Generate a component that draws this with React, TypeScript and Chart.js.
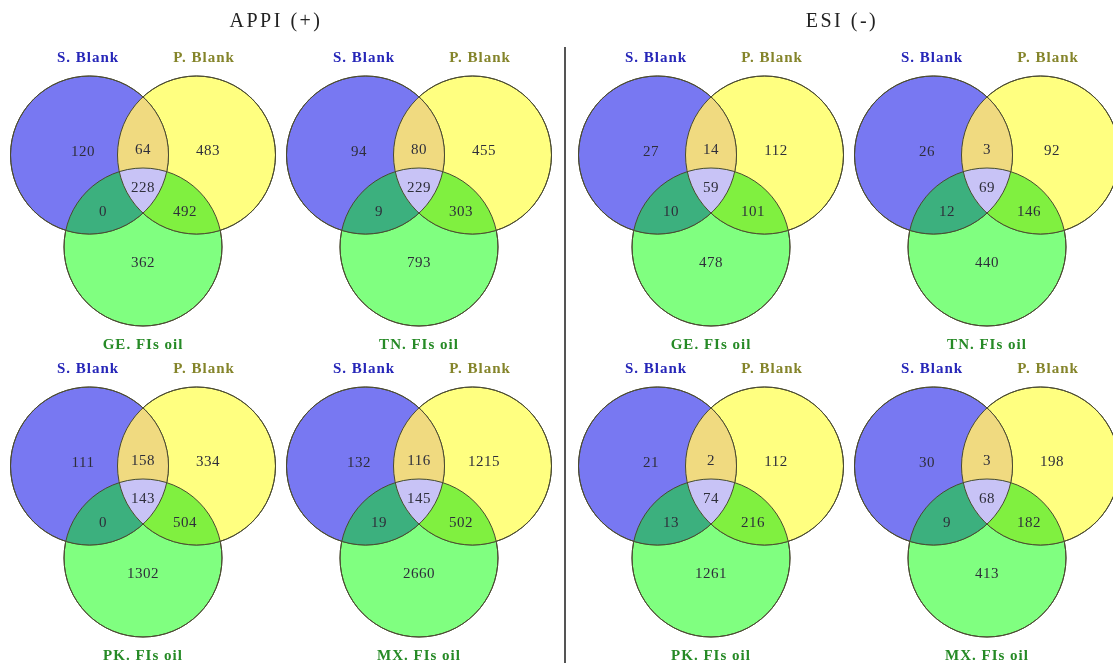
import React, { useEffect, useRef } from "react";
import { Chart, registerables } from "chart.js";

Chart.register(...registerables);

// ---- Data ----
const modeTitles = ["APPI (+)", "ESI (-)"];
const setLabels = ["S. Blank", "P. Blank"];
const sampleLabels = [
  "GE. FIs oil", "TN. FIs oil", "PK. FIs oil", "MX. FIs oil",
  "GE. FIs oil", "TN. FIs oil", "PK. FIs oil", "MX. FIs oil",
];
const onlyS = [120, 94, 111, 132, 27, 26, 21, 30];
const sAndP = [64, 80, 158, 116, 14, 3, 2, 3];
const onlyP = [483, 455, 334, 1215, 112, 92, 112, 198];
const allThree = [228, 229, 143, 145, 59, 69, 74, 68];
const sAndG = [0, 9, 0, 19, 10, 12, 13, 9];
const pAndG = [492, 303, 504, 502, 101, 146, 216, 182];
const onlyG = [362, 793, 1302, 2660, 478, 440, 1261, 413];

// ---- Layout (canvas units) ----
const W = 1113;
const H = 663;
const colX = [143, 419, 711, 987];
const rowY = [155, 466];
const HALF_D = 53.5;
const G_DY = 92;
const RADIUS = 79;
const titleX = [276, 842];
const titleY = 22;
const dividerX = 565;
const dividerTop = 47;

const panelCenter = (i: number) => {
  const mode = i < 4 ? 0 : 1;
  const j = i % 4;
  return { x: colX[mode * 2 + (j % 2)], y: rowY[j >= 2 ? 1 : 0] };
};

const COLORS = {
  S: "#7878F2",
  P: "#FFFF80",
  G: "#80FF80",
  SP: "#F0DA80",
  SG: "#3CB07E",
  PG: "#80F040",
  SPG: "#C8C3F6",
  edge: "#4a4a30",
};

const idx = sampleLabels.map((_, i) => i);
const sPoints = idx.map((i) => ({ x: panelCenter(i).x - HALF_D, y: panelCenter(i).y }));
const pPoints = idx.map((i) => ({ x: panelCenter(i).x + HALF_D, y: panelCenter(i).y }));
const gPoints = idx.map((i) => ({ x: panelCenter(i).x, y: panelCenter(i).y + G_DY }));

const radiusPx = (chart: any) => {
  const xs = chart && chart.scales && chart.scales.x;
  if (!xs) return RADIUS;
  const v = xs.getPixelForValue(RADIUS) - xs.getPixelForValue(0);
  return isFinite(v) && v > 0 ? v : RADIUS;
};

const vennPlugin = {
  id: "venn",
  afterDatasetsDraw(chart: any) {
    const ctx = chart.ctx as CanvasRenderingContext2D;
    const r = radiusPx(chart);
    const mS = chart.getDatasetMeta(0).data;
    const mP = chart.getDatasetMeta(1).data;
    const mG = chart.getDatasetMeta(2).data;
    const clip = (c: any) => {
      ctx.beginPath();
      ctx.arc(c.x, c.y, r, 0, Math.PI * 2);
      ctx.clip();
    };
    const fillRegion = (circles: any[], color: string) => {
      ctx.save();
      circles.forEach(clip);
      ctx.fillStyle = color;
      ctx.fillRect(0, 0, chart.width, chart.height);
      ctx.restore();
    };
    for (let i = 0; i < mS.length; i++) {
      const s = mS[i], p = mP[i], g = mG[i];
      fillRegion([s, p], COLORS.SP);
      fillRegion([s, g], COLORS.SG);
      fillRegion([p, g], COLORS.PG);
      fillRegion([s, p, g], COLORS.SPG);
      ctx.save();
      ctx.strokeStyle = COLORS.edge;
      ctx.lineWidth = 1;
      [s, p, g].forEach((c) => {
        ctx.beginPath();
        ctx.arc(c.x, c.y, r, 0, Math.PI * 2);
        ctx.stroke();
      });
      ctx.restore();
    }
  },
  afterDraw(chart: any) {
    const ctx = chart.ctx as CanvasRenderingContext2D;
    const xs = chart.scales.x, ys = chart.scales.y;
    const X = (v: number) => xs.getPixelForValue(v);
    const Y = (v: number) => ys.getPixelForValue(v);
    ctx.save();
    ctx.textAlign = "center";
    ctx.textBaseline = "middle";

    // divider
    ctx.strokeStyle = "#555555";
    ctx.lineWidth = 2;
    ctx.beginPath();
    ctx.moveTo(X(dividerX), Y(dividerTop));
    ctx.lineTo(X(dividerX), Y(H));
    ctx.stroke();

    // titles
    ctx.fillStyle = "#222222";
    ctx.font = '20px "Liberation Serif", "Times New Roman", serif';
    (ctx as any).letterSpacing = "2.5px";
    modeTitles.forEach((t, k) => ctx.fillText(t, X(titleX[k]), Y(titleY)));

    const numbers = [
      { arr: onlyS, dx: -60, dy: -3 },
      { arr: sAndP, dx: 0, dy: -5 },
      { arr: onlyP, dx: 65, dy: -4 },
      { arr: allThree, dx: 0, dy: 33 },
      { arr: sAndG, dx: -40, dy: 57 },
      { arr: pAndG, dx: 42, dy: 57 },
      { arr: onlyG, dx: 0, dy: 108 },
    ];

    sampleLabels.forEach((lab, i) => {
      const c = panelCenter(i);
      ctx.font = 'bold 15px "Liberation Serif", "Times New Roman", serif';
      (ctx as any).letterSpacing = "1px";
      ctx.fillStyle = "#2626B8";
      ctx.fillText(setLabels[0], X(c.x - 55), Y(c.y - 97));
      ctx.fillStyle = "#84842A";
      ctx.fillText(setLabels[1], X(c.x + 61), Y(c.y - 97));
      ctx.fillStyle = "#268A26";
      ctx.fillText(lab, X(c.x), Y(c.y + 190));

      ctx.font = '15px "Liberation Serif", "Times New Roman", serif';
      (ctx as any).letterSpacing = "0.5px";
      ctx.fillStyle = "#2E2E3A";
      numbers.forEach((n) => {
        ctx.fillText(String(n.arr[i]), X(c.x + n.dx), Y(c.y + n.dy));
      });
    });
    ctx.restore();
  },
};

export default function App() {
  const ref = useRef<HTMLCanvasElement | null>(null);
  useEffect(() => {
    if (!ref.current) return;
    const rad = (c: any) => radiusPx(c.chart);
    const chart = new Chart(ref.current, {
      type: "bubble",
      data: {
        datasets: [
          { label: setLabels[0], data: sPoints, backgroundColor: COLORS.S, borderColor: COLORS.edge, borderWidth: 1, radius: rad, pointStyle: "circle", clip: false } as any,
          { label: setLabels[1], data: pPoints, backgroundColor: COLORS.P, borderColor: COLORS.edge, borderWidth: 1, radius: rad, pointStyle: "circle", clip: false } as any,
          { label: "FIs oil", data: gPoints, backgroundColor: COLORS.G, borderColor: COLORS.edge, borderWidth: 1, radius: rad, pointStyle: "circle", clip: false } as any,
        ],
      },
      options: {
        responsive: false,
        animation: false,
        devicePixelRatio: 1,
        events: [],
        layout: { padding: 0, autoPadding: false } as any,
        scales: {
          x: { type: "linear", min: 0, max: W, display: false },
          y: { type: "linear", min: 0, max: H, reverse: true, display: false },
        },
        plugins: { legend: { display: false }, tooltip: { enabled: false } },
      },
      plugins: [vennPlugin],
    });
    return () => chart.destroy();
  }, []);
  return (
    <div style={{ position: "absolute", left: 0, top: 0, width: W, height: H, background: "#fff" }}>
      <canvas ref={ref} width={W} height={H} style={{ display: "block" }} />
    </div>
  );
}
